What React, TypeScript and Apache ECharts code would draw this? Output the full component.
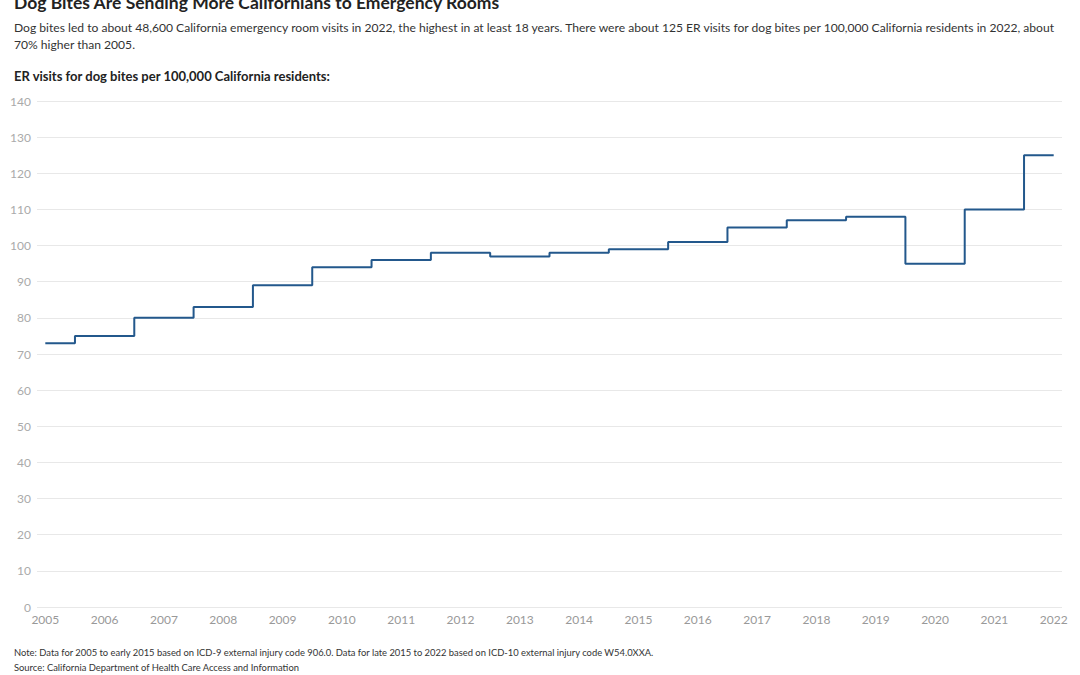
import React, { useEffect, useRef } from "react";
import * as echarts from "echarts";

const years = [2005, 2006, 2007, 2008, 2009, 2010, 2011, 2012, 2013, 2014, 2015, 2016, 2017, 2018, 2019, 2020, 2021, 2022];
const rates = [73, 75, 80, 83, 89, 94, 96, 98, 97, 98, 99, 101, 105, 107, 108, 95, 110, 125];
const yTicks = [0, 10, 20, 30, 40, 50, 60, 70, 80, 90, 100, 110, 120, 130, 140];

const titleText = "Dog Bites Are Sending More Californians to Emergency Rooms";
const subtitleText =
  "Dog bites led to about 48,600 California emergency room visits in 2022, the highest in at least 18 years. There were about 125 ER visits for dog bites per 100,000 California residents in 2022, about\n70% higher than 2005.";
const axisTitle = "ER visits for dog bites per 100,000 California residents:";
const noteText =
  "Note: Data for 2005 to early 2015 based on ICD-9 external injury code 906.0. Data for late 2015 to 2022 based on ICD-10 external injury code W54.0XXA.\nSource: California Department of Health Care Access and Information";

const FONT = "Lato, 'Noto Sans', sans-serif";

export default function App() {
  const ref = useRef<HTMLDivElement>(null);
  useEffect(() => {
    if (!ref.current) return;
    const chart = echarts.init(ref.current, undefined, { renderer: "svg" });
    chart.setOption({
      animation: false,
      backgroundColor: "#ffffff",
      textStyle: { fontFamily: FONT },
      title: [
        {
          text: titleText,
          left: 14,
          top: -7,
          padding: 0,
          textStyle: { fontFamily: FONT, fontSize: 17.5, fontWeight: "bold", color: "#222" },
        },
        {
          text: subtitleText,
          left: 14,
          top: 19,
          padding: 0,
          textStyle: { fontFamily: FONT, fontSize: 12.1, fontWeight: "normal", color: "#333", lineHeight: 17 },
        },
        {
          text: axisTitle,
          left: 14,
          top: 69,
          padding: 0,
          textStyle: { fontFamily: FONT, fontSize: 13, fontWeight: "bold", color: "#222" },
        },
        {
          text: noteText,
          left: 14,
          top: 645,
          padding: 0,
          textStyle: { fontFamily: FONT, fontSize: 9.4, fontWeight: "normal", color: "#333", lineHeight: 15 },
        },
      ],
      grid: { left: 37, right: 18, top: 101, bottom: 68, containLabel: false },
      xAxis: {
        type: "value",
        min: 2004.86,
        max: 2022.14,
        axisLine: { show: false },
        axisTick: { show: false },
        splitLine: { show: false },
        axisLabel: {
          customValues: years,
          color: "#999",
          fontSize: 12,
          fontFamily: FONT,
          margin: 6,
          formatter: (v: number) => String(Math.round(v)),
        },
      },
      yAxis: {
        type: "value",
        min: 0,
        max: 140,
        interval: 10,
        axisLine: { show: false },
        axisTick: { show: false },
        axisLabel: {
          customValues: yTicks,
          color: "#aaa",
          fontSize: 12,
          fontFamily: FONT,
          margin: 6,
        },
        splitLine: { show: true, lineStyle: { color: "#e8e8e8", width: 1 } },
      },
      series: [
        {
          type: "line",
          step: "middle",
          data: years.map((y, i) => [y, rates[i]]),
          showSymbol: false,
          lineStyle: { color: "#23588c", width: 2 },
          silent: true,
        },
      ],
    });
    return () => chart.dispose();
  }, []);
  return (
    <div
      ref={ref}
      style={{ position: "fixed", left: 0, top: 0, width: 1080, height: 675 }}
    />
  );
}
